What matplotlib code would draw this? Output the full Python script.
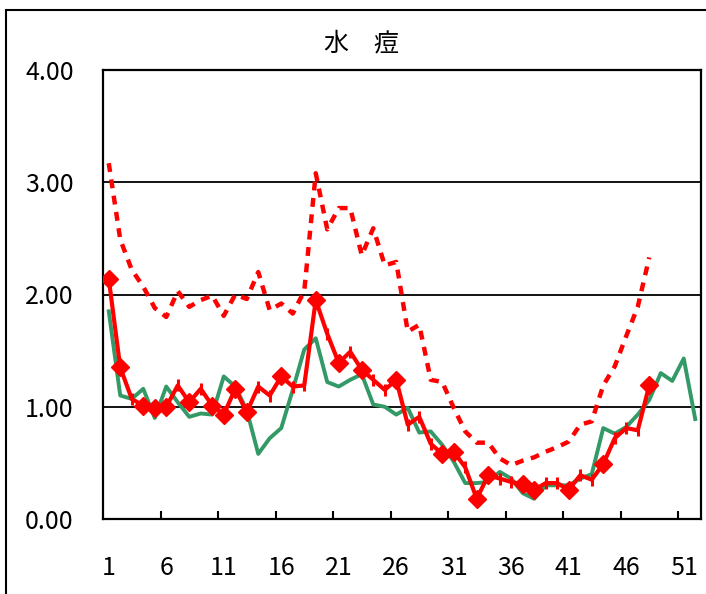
import matplotlib.pyplot as plt
import matplotlib as mpl
from matplotlib.patches import Rectangle

plt.rcParams['font.family'] = ['Noto Sans CJK JP', 'DejaVu Sans']

# ---------------------------

weeks = list(range(1, 53))
weekLabels = ['1', '6', '11', '16', '21', '26', '31', '36', '41', '46', '51']

thisYear = [2.14, 1.35, 1.07, 1.01, 0.99, 1.00, 1.19, 1.04, 1.16, 1.01,
            0.93, 1.16, 0.95, 1.18, 1.10, 1.27, 1.18, 1.19, 1.95, 1.65,
            1.39, 1.49, 1.33, 1.24, 1.15, 1.24, 0.84, 0.91, 0.67, 0.58,
            0.60, 0.46, 0.18, 0.39, 0.36, 0.33, 0.31, 0.26, 0.32, 0.32,
            0.26, 0.39, 0.35, 0.49, 0.72, 0.81, 0.79, 1.19]

lastYear = [1.85, 1.10, 1.07, 1.16, 0.90, 1.18, 1.04, 0.91, 0.94, 0.93,
            1.27, 1.18, 0.97, 0.58, 0.72, 0.81, 1.15, 1.51, 1.61, 1.22,
            1.18, 1.24, 1.29, 1.02, 1.00, 0.93, 0.99, 0.77, 0.78, 0.66,
            0.51, 0.32, 0.32, 0.33, 0.42, 0.36, 0.23, 0.18, 0.30, 0.30,
            0.30, 0.36, 0.40, 0.81, 0.76, 0.82, 0.93, 1.06, 1.30, 1.23,
            1.43, 0.89]

dashedSeries = [3.17, 2.49, 2.22, 2.07, 1.88, 1.80, 2.03, 1.89, 1.95, 1.99,
                1.81, 2.00, 1.96, 2.20, 1.86, 1.92, 1.83, 2.03, 3.08, 2.58,
                2.77, 2.77, 2.35, 2.59, 2.26, 2.29, 1.67, 1.73, 1.24, 1.22,
                0.99, 0.78, 0.68, 0.68, 0.54, 0.48, 0.52, 0.55, 0.60, 0.64,
                0.69, 0.84, 0.87, 1.19, 1.36, 1.63, 1.89, 2.33]

# weeks of this year drawn with a diamond, the rest get a small bar
diamondWeeks = [1, 2, 4, 5, 6, 8, 10, 11, 12, 13, 16, 19, 21, 23, 26,
                30, 31, 33, 34, 37, 38, 41, 44, 48]

# ---------------------------

fig = plt.figure(figsize=(7.06, 5.94), dpi=100)
ax = fig.add_axes([103/706, 1 - 519/594, 598/706, 449/594])

red = '#FF0000'
green = '#339966'

ax.plot(weeks[:len(dashedSeries)], dashedSeries, color=red, lw=3.2,
        linestyle=(0, (2.0, 1.7)), dash_capstyle='butt', zorder=3)
ax.plot(weeks[:len(lastYear)], lastYear, color=green, lw=2.8, zorder=4)

tyWeeks = weeks[:len(thisYear)]
ax.plot(tyWeeks, thisYear, color=red, lw=3.0, zorder=5)
dx = [w for w in tyWeeks if w in diamondWeeks]
dy = [thisYear[w - 1] for w in dx]
bx = [w for w in tyWeeks if w not in diamondWeeks]
by = [thisYear[w - 1] for w in bx]
ax.plot(dx, dy, 'D', color=red, markersize=9.5, zorder=6)
ax.plot(bx, by, '|', color=red, markersize=9, markeredgewidth=2.2, zorder=6)

ax.set_xlim(0.5, 52.5)
ax.set_ylim(0, 4)
ax.set_yticks([0, 1, 2, 3, 4])
ax.set_yticklabels(['%.2f' % v for v in [0, 1, 2, 3, 4]])
ax.set_xticks([1, 6, 11, 16, 21, 26, 31, 36, 41, 46, 51])
ax.set_xticklabels(weekLabels)
ax.set_xticks([5.5, 10.5, 15.5, 20.5, 25.5, 30.5, 35.5, 40.5, 45.5, 50.5], minor=True)
ax.tick_params(axis='x', which='major', length=0, pad=26, labelsize=18)
ax.tick_params(axis='x', which='minor', direction='in', length=5.5, width=1.5, color='black')
ax.tick_params(axis='y', length=0, pad=21, labelsize=18)

for v in [1, 2, 3]:
    ax.axhline(v, color='black', lw=1.3, zorder=2)

for s in ax.spines.values():
    s.set_linewidth(1.6)
    s.set_color('black')

fig.text(362/706, 1 - 43/594, '水\u3000痘', ha='center', va='center', fontsize=18)

fig.patches.append(Rectangle((6/706, -0.1), 1.2, 1 - 10/594 + 0.1,
                             transform=fig.transFigure, fill=False,
                             edgecolor='black', lw=1.5))

fig.savefig('out.png', dpi=100)
